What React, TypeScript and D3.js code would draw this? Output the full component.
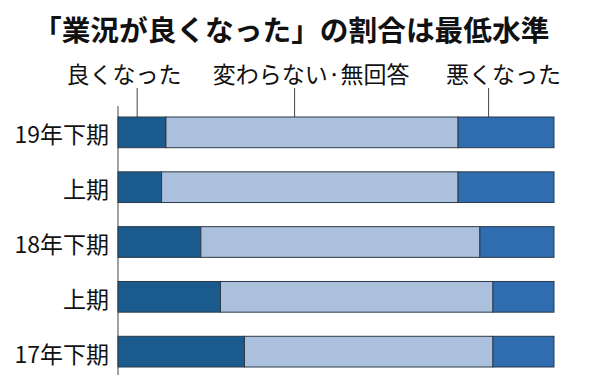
import React from "react";
import * as d3 from "d3";

const title = "「業況が良くなった」の割合は最低水準";
const categories = ["19年下期", "上期", "18年下期", "上期", "17年下期"];
const good = [11, 10, 19, 23.5, 29];
const same = [67, 68, 64, 62.5, 57];
const bad = [22, 22, 17, 14, 14];
const seriesNames = ["良くなった", "変わらない·無回答", "悪くなった"];
const colors = ["#1b5a8c", "#abc0dc", "#2f6db0"];
// leader anchor (x value) and label center (x value) for each series
const leaderAt = [4.4, 40.5, 85];
const labelAt = [1.4, 44.3, 88.4];

const W = 600;
const H = 375;
const FONT = "'Noto Sans CJK JP', 'Noto Sans', sans-serif";

export default function App() {
  const x = d3.scaleLinear().domain([0, 100]).range([118, 554]);
  const y = d3
    .scaleBand<number>()
    .domain(categories.map((_, i) => i))
    .range([117, 367])
    .paddingInner(0.44)
    .paddingOuter(0);

  const rows = categories.map((c, i) => {
    const vals = [good[i], same[i], bad[i]];
    let acc = 0;
    const segs = vals.map((v, k) => {
      const s = { k, x0: acc, x1: acc + v };
      acc += v;
      return s;
    });
    return { c, i, segs };
  });

  const top = y(0)!;

  return (
    <svg
      width={W}
      height={H}
      style={{ position: "absolute", left: 0, top: 0, background: "#fff" }}
      fontFamily={FONT}
    >
      <text x={33} y={28} fontSize={28.7} fontWeight="bold" dominantBaseline="central" fill="#111">
        {title}
      </text>
      {seriesNames.map((n, k) => (
        <g key={n}>
          <text
            x={x(labelAt[k])}
            y={73}
            fontSize={23}
            textAnchor="middle"
            dominantBaseline="central"
            fill="#111"
          >
            {n}
          </text>
          <line x1={x(leaderAt[k])} x2={x(leaderAt[k])} y1={88} y2={top} stroke="#444" strokeWidth={1} />
        </g>
      ))}
      <line x1={x(0)} x2={x(0)} y1={106} y2={H} stroke="#444" strokeWidth={1} />
      {rows.map((r) => (
        <g key={r.i}>
          <text
            x={109}
            y={y(r.i)! + y.bandwidth() / 2 + 1}
            fontSize={23}
            textAnchor="end"
            dominantBaseline="central"
            fill="#111"
          >
            {r.c}
          </text>
          {r.segs.map((s) => (
            <rect
              key={s.k}
              x={x(s.x0)}
              y={y(r.i)!}
              width={x(s.x1) - x(s.x0)}
              height={y.bandwidth()}
              fill={colors[s.k]}
              stroke="#2b3a48"
              strokeWidth={1}
            />
          ))}
        </g>
      ))}
    </svg>
  );
}
